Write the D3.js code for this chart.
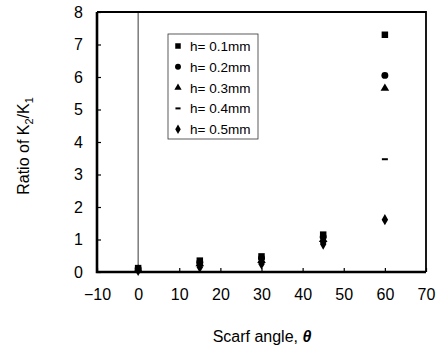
<!DOCTYPE html>
<html>
<head>
<meta charset="utf-8">
<script src="https://cdn.jsdelivr.net/npm/d3@7"></script>
<style>
body { margin: 0; background: #fff; }
text { font-family: "Liberation Sans", Arial, sans-serif; fill: #000; }
</style>
</head>
<body>
<div id="chart"></div>
<script>
var angles = [0, 15, 30, 45, 60];
var series_names = ["h= 0.1mm", "h= 0.2mm", "h= 0.3mm", "h= 0.4mm", "h= 0.5mm"];
var h01 = [0.12, 0.35, 0.48, 1.15, 7.30];
var h02 = [0.10, 0.30, 0.42, 1.08, 6.05];
var h03 = [0.08, 0.25, 0.35, 1.00, 5.65];
var h04 = [0.06, 0.20, 0.30, 0.92, 3.47];
var h05 = [0.05, 0.15, 0.25, 0.86, 1.61];
var x_ticks = [-10, 0, 10, 20, 30, 40, 50, 60, 70];
var y_ticks = [0, 1, 2, 3, 4, 5, 6, 7, 8];

var W = 445, H = 348;
var margin = {top: 12, right: 19, bottom: 76, left: 97};

var svg = d3.select("#chart").append("svg")
    .attr("width", W).attr("height", H);

var x = d3.scaleLinear().domain([-10, 70]).range([margin.left, W - margin.right]);
var y = d3.scaleLinear().domain([0, 8]).range([H - margin.bottom, margin.top]);

// vertical line at 0
svg.append("line").attr("x1", x(0)).attr("x2", x(0)).attr("y1", y(8)).attr("y2", y(0))
    .attr("stroke", "#222").attr("stroke-width", 0.9);

var xAxis = d3.axisBottom(x).tickValues(x_ticks).tickSize(-4).tickPadding(17)
    .tickFormat(d => d < 0 ? "\u2212" + Math.abs(d) : d);
svg.append("g").attr("transform", "translate(0," + y(0) + ")").call(xAxis)
    .call(g => g.select(".domain").remove())
    .call(g => g.selectAll("line").attr("stroke", "black").attr("stroke-width", 1.2))
    .call(g => g.selectAll("text").attr("font-size", 16).attr("fill", "black")
        .style("font-family", "Liberation Sans, Arial, sans-serif"));

var yAxis = d3.axisLeft(y).tickValues(y_ticks).tickSize(-4).tickPadding(14);
svg.append("g").attr("transform", "translate(" + x(-10) + ",0)").call(yAxis)
    .call(g => g.select(".domain").remove())
    .call(g => g.selectAll("line").attr("stroke", "black").attr("stroke-width", 1.2))
    .call(g => g.selectAll("text").attr("font-size", 16).attr("fill", "black")
        .style("font-family", "Liberation Sans, Arial, sans-serif"));

// frame: thin top/right, heavier left/bottom
var x0 = x(-10), x1 = x(70), y0 = y(0), y1 = y(8);
svg.append("path")
    .attr("d", "M" + x0 + "," + y1 + "H" + x1 + "V" + y0)
    .attr("fill", "none").attr("stroke", "black").attr("stroke-width", 1.8);
svg.append("path")
    .attr("d", "M" + x0 + "," + y1 + "V" + y0 + "H" + x1)
    .attr("fill", "none").attr("stroke", "black").attr("stroke-width", 2.6);

// axis titles
svg.append("text").attr("x", 262).attr("y", 342)
    .attr("text-anchor", "middle").attr("font-size", 16)
    .html('Scarf angle, <tspan font-style="italic" font-weight="bold">\u03b8</tspan>');

svg.append("text")
    .attr("transform", "translate(29,146) rotate(-90)")
    .attr("text-anchor", "middle").attr("font-size", 16)
    .html('Ratio of K<tspan font-size="11" dy="4">2</tspan><tspan dy="-4">/K</tspan><tspan font-size="11" dy="4">1</tspan>');

// markers
var shapes = [d3.symbolSquare, d3.symbolCircle, d3.symbolTriangle, null, d3.symbolDiamond];
var sizes = [42, 38, 32, 0, 36];
var all_series = [h01, h02, h03, h04, h05];

function drawMarker(g, i, s) {
    s = s || 1;
    if (shapes[i] === null) {
        g.append("rect").attr("x", -3 * s).attr("y", -1).attr("width", 6 * s).attr("height", 2).attr("fill", "black");
    } else {
        g.append("path").attr("d", d3.symbol().type(shapes[i]).size(sizes[i] * s * s)()).attr("fill", "black");
    }
}

all_series.forEach(function (vals, i) {
    angles.forEach(function (a, j) {
        var g = svg.append("g").attr("transform", "translate(" + x(a) + "," + y(vals[j]) + ")");
        drawMarker(g, i);
    });
});

// legend
var lg = svg.append("g");
lg.append("rect").attr("x", 168).attr("y", 34).attr("width", 90).attr("height", 105)
    .attr("fill", "#fff").attr("stroke", "#333").attr("stroke-width", 0.8);
series_names.forEach(function (name, i) {
    var cy = 46 + i * 20.8;
    var g = lg.append("g").attr("transform", "translate(178," + cy + ")");
    drawMarker(g, i, 0.85);
    lg.append("text").attr("x", 190).attr("y", cy + 5).attr("font-size", 13.5).text(name);
});
</script>
</body>
</html>
